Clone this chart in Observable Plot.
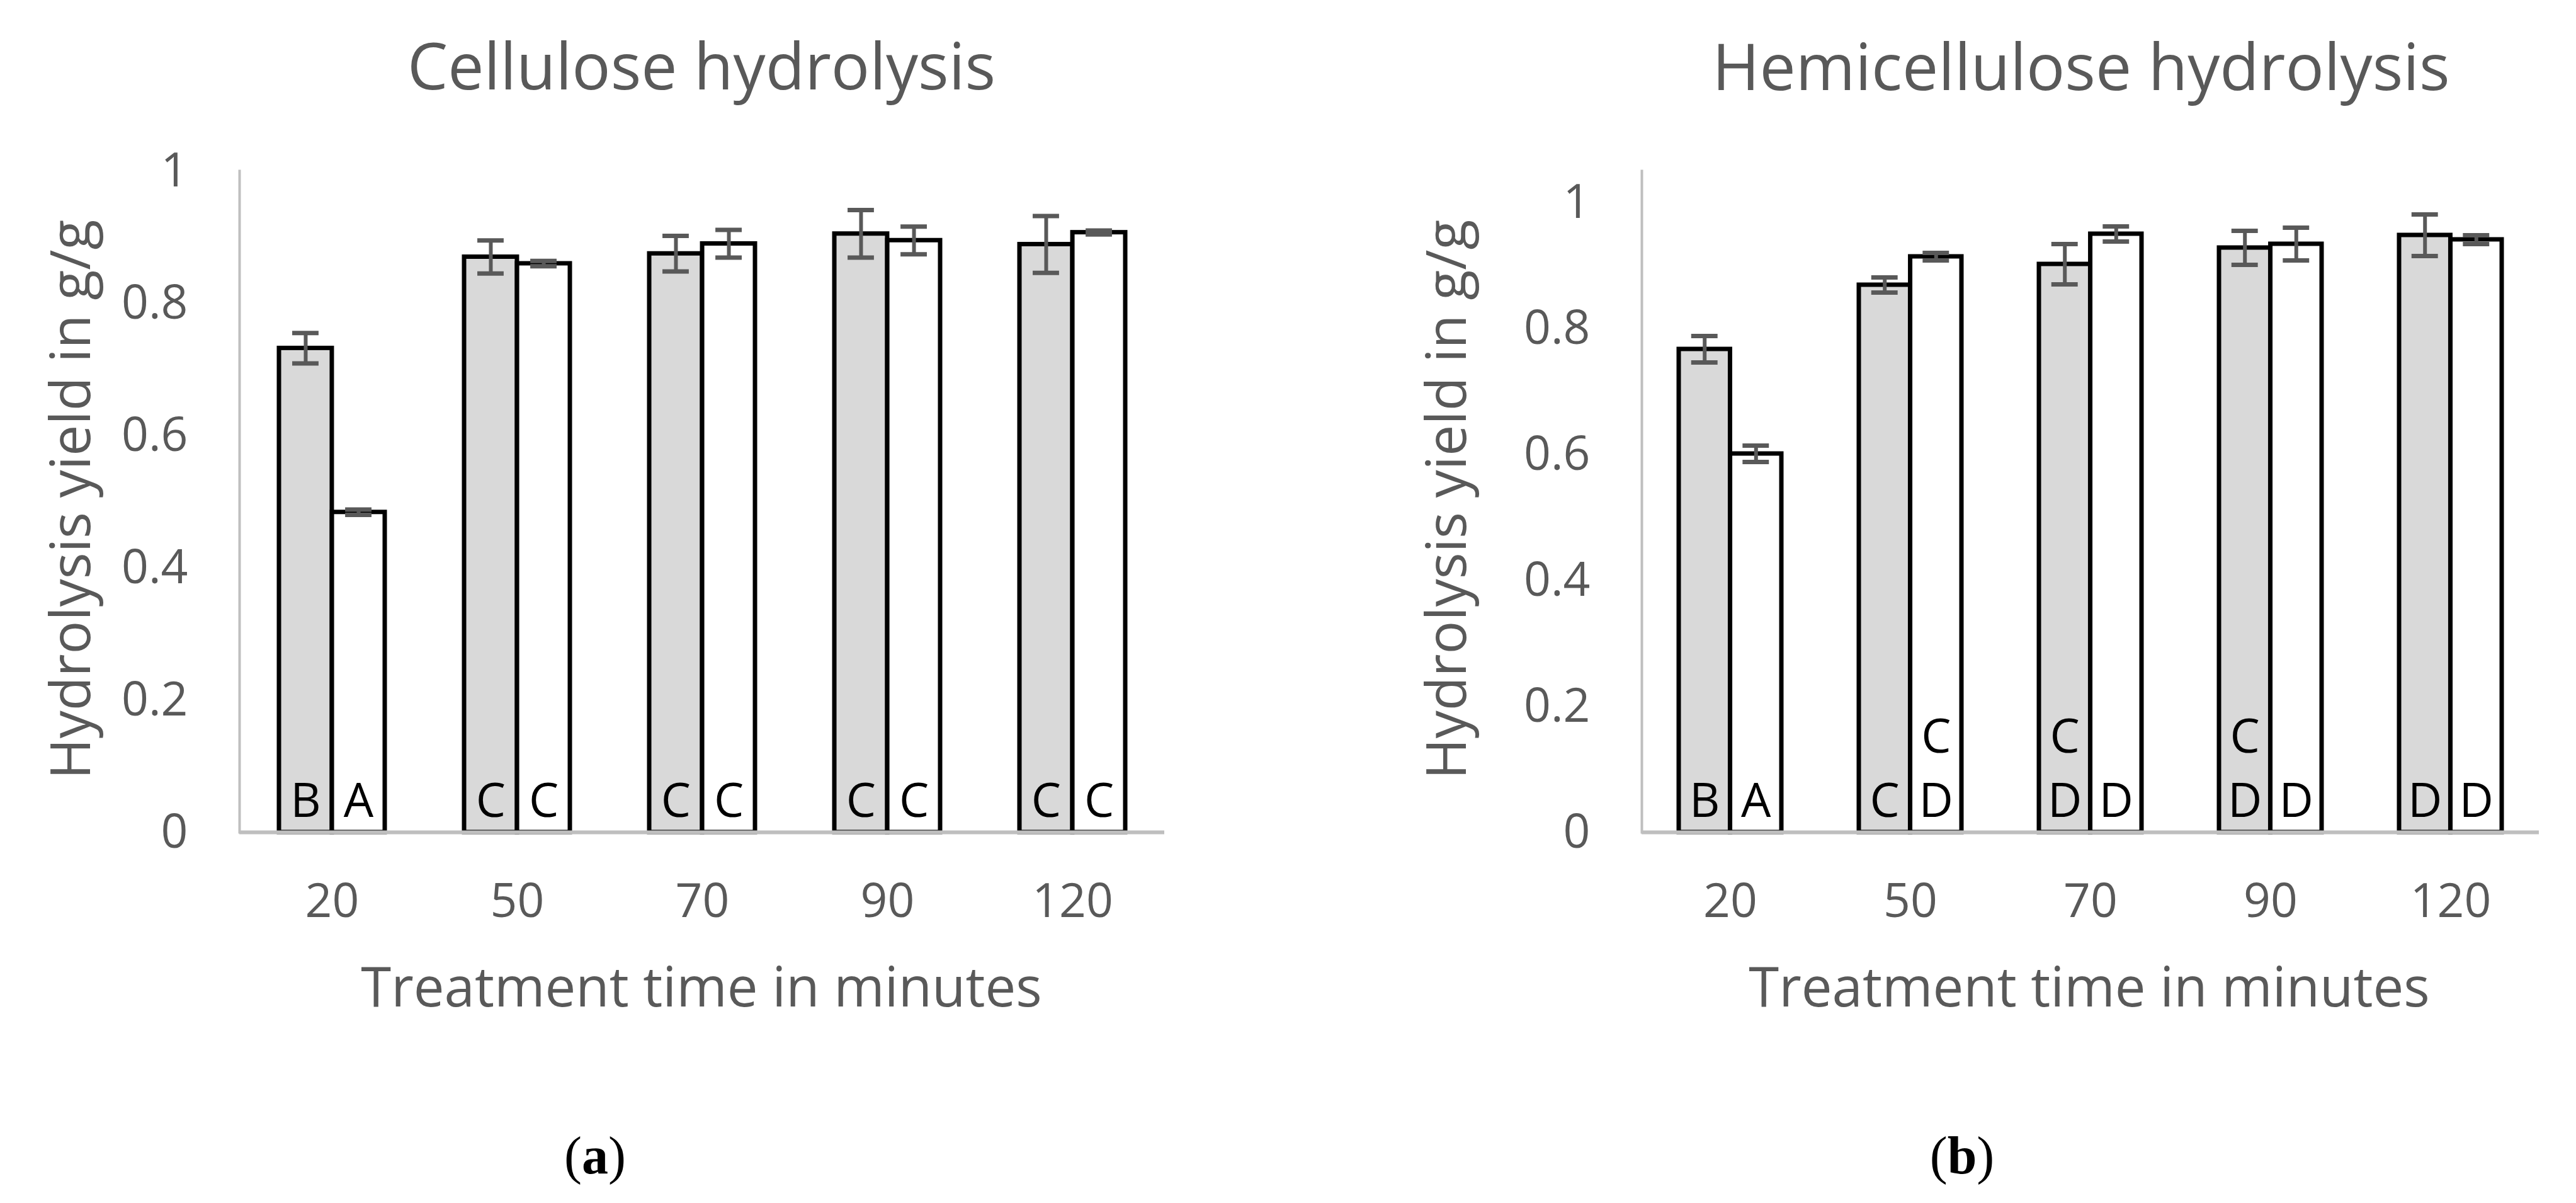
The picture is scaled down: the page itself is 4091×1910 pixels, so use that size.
<!DOCTYPE html>
<html><head><meta charset="utf-8">
<script src="https://cdn.jsdelivr.net/npm/d3@7"></script>
<script src="https://cdn.jsdelivr.net/npm/@observablehq/plot@0.6"></script>
<style>
html,body{margin:0;padding:0;background:#fff;}
#page{position:relative;width:4091px;height:1910px;overflow:hidden;background:#fff;}
#page > svg{position:absolute;top:0;}
</style></head><body><div id="page"></div>
<script>
// ---- data ----
const times = ["20", "50", "70", "90", "120"];
const yTicksA = [0, 0.2, 0.4, 0.6, 0.8, 1];
const yTicksB = [0, 0.2, 0.4, 0.6, 0.8, 1];

const celluloseGray     = [0.732, 0.870, 0.875, 0.905, 0.889];
const celluloseGrayErr  = [0.023, 0.025, 0.027, 0.036, 0.043];
const celluloseWhite    = [0.484, 0.860, 0.890, 0.895, 0.907];
const celluloseWhiteErr = [0.004, 0.004, 0.021, 0.021, 0.003];
const celluloseGrayLetters  = ["B", "C", "C", "C", "C"];
const celluloseWhiteLetters = ["A", "C", "C", "C", "C"];

const hemiGray     = [0.767, 0.869, 0.902, 0.928, 0.948];
const hemiGrayErr  = [0.021, 0.012, 0.032, 0.027, 0.033];
const hemiWhite    = [0.601, 0.914, 0.950, 0.934, 0.941];
const hemiWhiteErr = [0.013, 0.006, 0.012, 0.026, 0.007];
const hemiGrayLetters  = ["B", "C", "C\nD", "C\nD", "D"];
const hemiWhiteLetters = ["A", "C\nD", "D", "D", "D"];

const titles = ["Cellulose hydrolysis", "Hemicellulose hydrolysis"];
const xTitle = "Treatment time in minutes";
const yTitle = "Hydrolysis yield in g/g";
const panelTags = ["a", "b"];

// ---- layout ----
const page = document.getElementById("page");
const TEXT = "#595959";
const PI = 0.43, PO = 0.205;

function chart(o) {
  const rows = times.map((t, i) => ({
    time: t,
    gray: o.gray[i], grayErr: o.grayErr[i],
    white: o.white[i], whiteErr: o.whiteErr[i],
    gl: o.gl[i], wl: o.wl[i]
  }));
  const bw = (o.x2 - o.x1) / (times.length - PI + 2 * PO) * (1 - PI);
  const half = bw / 2;
  const capW = 42;
  const capIn = (half - capW) / 2;
  const errStroke = {stroke: "#595959"};
  const svg = Plot.plot({
    width: o.width,
    height: 1500,
    marginLeft: o.x1 - o.left,
    marginRight: o.left + o.width - o.x2,
    marginTop: 271,
    marginBottom: 179,
    style: {fontFamily: "'Open Sans'", fontSize: "75px", color: TEXT, background: "transparent", overflow: "visible"},
    x: {domain: times, paddingInner: PI, paddingOuter: PO, tickSize: 0, tickPadding: 81, label: null},
    y: {domain: [0, o.ymax], ticks: o.yTicks, tickFormat: d => String(d), tickSize: 0, tickPadding: 82, label: null},
    marks: [
      Plot.barY(rows, {x: "time", y: "gray", fill: "#d9d9d9", stroke: "black", strokeWidth: 7, insetRight: half}),
      Plot.barY(rows, {x: "time", y: "white", fill: "white", stroke: "black", strokeWidth: 7, insetLeft: half}),
      Plot.text(rows, {x: "time", y: 0, text: "gl", dx: -half / 2, dy: -25, lineAnchor: "bottom", lineHeight: 1.36, fontSize: 75, fill: "black"}),
      Plot.text(rows, {x: "time", y: 0, text: "wl", dx: half / 2, dy: -25, lineAnchor: "bottom", lineHeight: 1.36, fontSize: 75, fill: "black"}),
      Plot.ruleX(rows, {x: "time", y1: d => d.gray - d.grayErr, y2: d => d.gray + d.grayErr, dx: -half / 2, strokeWidth: 6, ...errStroke}),
      Plot.ruleX(rows, {x: "time", y1: d => d.white - d.whiteErr, y2: d => d.white + d.whiteErr, dx: half / 2, strokeWidth: 6, ...errStroke}),
      Plot.tickY(rows, {x: "time", y: d => d.gray - d.grayErr, insetLeft: capIn, insetRight: half + capIn, strokeWidth: 7, ...errStroke}),
      Plot.tickY(rows, {x: "time", y: d => d.gray + d.grayErr, insetLeft: capIn, insetRight: half + capIn, strokeWidth: 7, ...errStroke}),
      Plot.tickY(rows, {x: "time", y: d => d.white - d.whiteErr, insetLeft: half + capIn, insetRight: capIn, strokeWidth: 7, ...errStroke}),
      Plot.tickY(rows, {x: "time", y: d => d.white + d.whiteErr, insetLeft: half + capIn, insetRight: capIn, strokeWidth: 7, ...errStroke}),
      Plot.ruleY([0], {stroke: "#bfbfbf", strokeWidth: 6}),
      Plot.frame({anchor: "left", stroke: "#bfbfbf", strokeWidth: 4})
    ]
  });
  svg.style.left = o.left + "px";
  page.appendChild(svg);
}

chart({left: 0, width: 2045, x1: 380, x2: 1849, ymax: 1, yTicks: yTicksA,
  gray: celluloseGray, grayErr: celluloseGrayErr, white: celluloseWhite, whiteErr: celluloseWhiteErr,
  gl: celluloseGrayLetters, wl: celluloseWhiteLetters});
chart({left: 2045, width: 2046, x1: 2607, x2: 4032, ymax: 1.05, yTicks: yTicksB,
  gray: hemiGray, grayErr: hemiGrayErr, white: hemiWhite, whiteErr: hemiWhiteErr,
  gl: hemiGrayLetters, wl: hemiWhiteLetters});

// ---- titles & labels ----
const ov = d3.select(page).append("svg")
  .attr("width", 4091).attr("height", 1910)
  .style("left", "0px").style("pointer-events", "none");
const sans = "'Open Sans', sans-serif";
function label(txt, x, y, size, rot) {
  const t = ov.append("text").text(txt)
    .attr("font-family", sans).attr("font-size", size).attr("fill", TEXT)
    .attr("text-anchor", "middle");
  if (rot) t.attr("transform", `translate(${x},${y}) rotate(-90)`);
  else t.attr("x", x).attr("y", y);
}
label(titles[0], 1114, 142, 102);
label(titles[1], 3305, 143, 102);
label(xTitle, 1114, 1598, 87);
label(xTitle, 3318, 1598, 87);
label(yTitle, 143, 793, 88, true);
label(yTitle, 2328, 793, 88, true);
[[panelTags[0], 945], [panelTags[1], 3116]].forEach(([tag, x]) => {
  const t = ov.append("text").attr("x", x).attr("y", 1863)
    .attr("font-family", "'Liberation Serif', 'Times New Roman', serif")
    .attr("font-size", 84).attr("fill", "black").attr("text-anchor", "middle");
  t.append("tspan").text("(");
  t.append("tspan").attr("font-weight", "bold").text(tag);
  t.append("tspan").text(")");
});
</script>
</body></html>
